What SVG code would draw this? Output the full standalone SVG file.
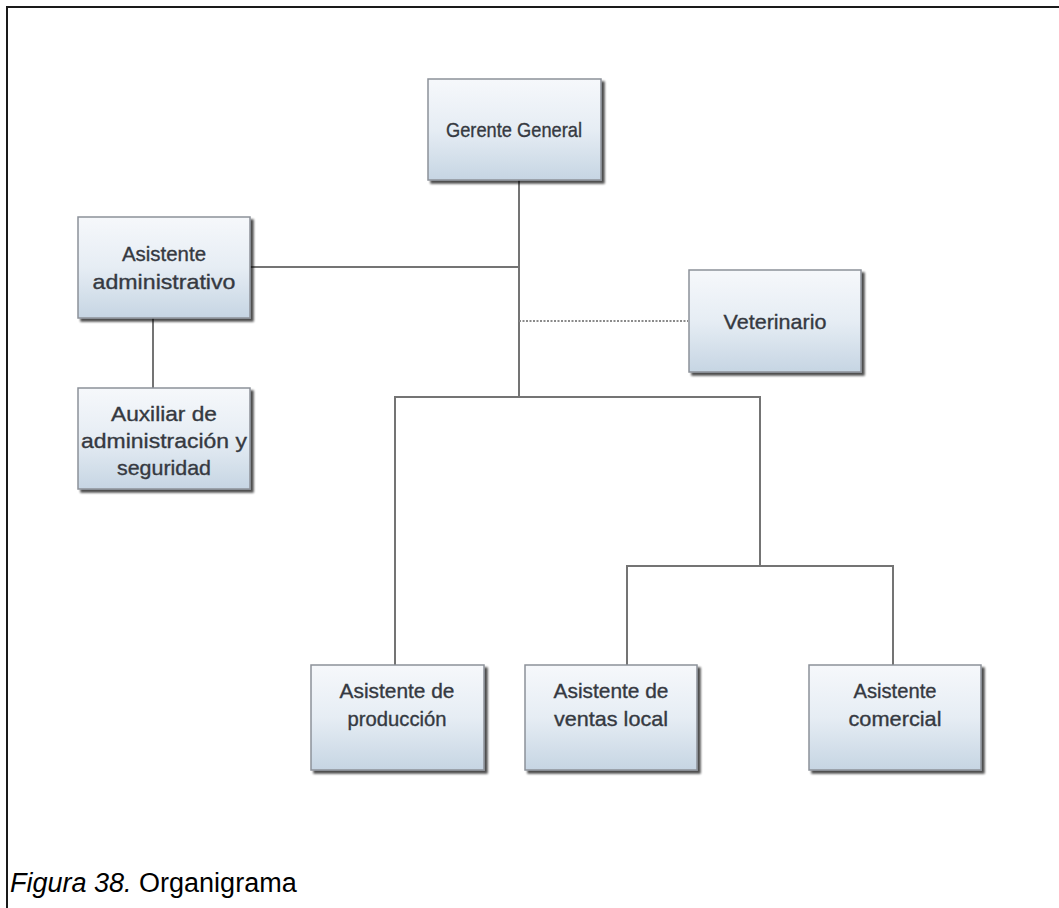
<svg xmlns="http://www.w3.org/2000/svg" width="1059" height="908" viewBox="0 0 1059 908">
  <defs>
    <linearGradient id="boxFill" x1="0" y1="0" x2="0" y2="1">
      <stop offset="0" stop-color="#f6f8fb"/>
      <stop offset="0.5" stop-color="#e6edf4"/>
      <stop offset="1" stop-color="#c6d5e3"/>
    </linearGradient>
    <filter id="shadow" x="-10%" y="-10%" width="130%" height="130%">
      <feGaussianBlur in="SourceAlpha" stdDeviation="1.2"/>
      <feOffset dx="3" dy="3" result="off"/>
      <feComponentTransfer><feFuncA type="linear" slope="0.7"/></feComponentTransfer>
      <feMerge><feMergeNode/><feMergeNode in="SourceGraphic"/></feMerge>
    </filter>
  </defs>
  <style>
    .box { fill: url(#boxFill); stroke: #8c9199; stroke-width: 1.5; filter: url(#shadow); }
    .lbl { font-family: "Liberation Sans", Arial, sans-serif; font-size: 21px; fill: #353941; stroke: #353941; stroke-width: 0.35; text-anchor: middle; }
    .link { stroke: #747474; stroke-width: 2; fill: none; }
    .dash { stroke: #8a8a8a; stroke-width: 2; stroke-dasharray: 2 1.5; fill: none; }
    .frame { stroke: #1a1a1a; stroke-width: 2; fill: none; }
    .cap { font-family: "Liberation Sans", Arial, sans-serif; font-size: 27px; fill: #000; }
  </style>

  <rect width="1059" height="908" fill="#ffffff"/>

  <!-- page frame -->
  <path class="frame" d="M7,908 V7 H1059"/>

  <!-- connectors -->
  <g id="connectors">
    <path class="link" d="M519,180 V397"/>
    <path class="link" d="M250,267 H519"/>
    <path class="dash" d="M519,321 H688"/>
    <path class="link" d="M153,318 V388"/>
    <path class="link" d="M395,665 V397 H760 V566"/>
    <path class="link" d="M627,665 V566 H893 V665"/>
  </g>

  <g id="gerente">
    <rect class="box" x="428" y="79" width="173" height="101"/>
    <text class="lbl" x="514" y="137" textLength="136" lengthAdjust="spacingAndGlyphs">Gerente General</text>
  </g>

  <g id="asistente-admin">
    <rect class="box" x="78" y="217" width="172" height="101"/>
    <text class="lbl" x="164" y="261" textLength="84" lengthAdjust="spacingAndGlyphs">Asistente</text>
    <text class="lbl" x="164" y="289" textLength="143" lengthAdjust="spacingAndGlyphs">administrativo</text>
  </g>

  <g id="auxiliar">
    <rect class="box" x="78" y="388" width="172" height="101"/>
    <text class="lbl" x="164" y="421" textLength="106" lengthAdjust="spacingAndGlyphs">Auxiliar de</text>
    <text class="lbl" x="164" y="448" textLength="166" lengthAdjust="spacingAndGlyphs">administración y</text>
    <text class="lbl" x="164" y="475" textLength="94" lengthAdjust="spacingAndGlyphs">seguridad</text>
  </g>

  <g id="veterinario">
    <rect class="box" x="689" y="270" width="172" height="102"/>
    <text class="lbl" x="775" y="329" textLength="103" lengthAdjust="spacingAndGlyphs">Veterinario</text>
  </g>

  <g id="asistente-produccion">
    <rect class="box" x="311" y="665" width="173" height="105"/>
    <text class="lbl" x="397" y="698" textLength="115" lengthAdjust="spacingAndGlyphs">Asistente de</text>
    <text class="lbl" x="397" y="726" textLength="99" lengthAdjust="spacingAndGlyphs">producción</text>
  </g>

  <g id="asistente-ventas">
    <rect class="box" x="525" y="665" width="172" height="105"/>
    <text class="lbl" x="611" y="698" textLength="115" lengthAdjust="spacingAndGlyphs">Asistente de</text>
    <text class="lbl" x="611" y="726" textLength="114" lengthAdjust="spacingAndGlyphs">ventas local</text>
  </g>

  <g id="asistente-comercial">
    <rect class="box" x="809" y="665" width="172" height="105"/>
    <text class="lbl" x="895" y="698" textLength="83" lengthAdjust="spacingAndGlyphs">Asistente</text>
    <text class="lbl" x="895" y="726" textLength="93" lengthAdjust="spacingAndGlyphs">comercial</text>
  </g>

  <text class="cap" x="10" y="892"><tspan font-style="italic">Figura 38.</tspan> Organigrama</text>
</svg>
